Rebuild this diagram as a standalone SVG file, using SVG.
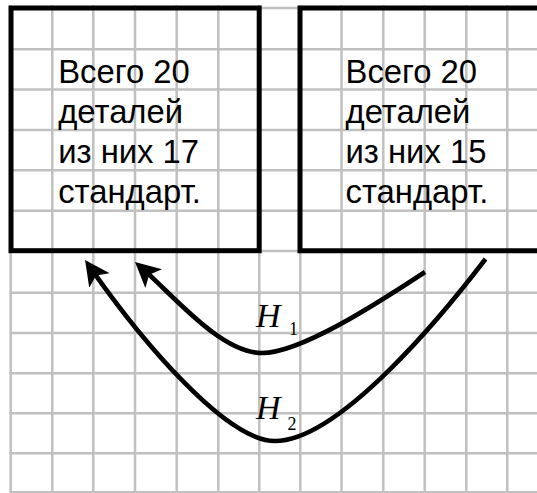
<svg xmlns="http://www.w3.org/2000/svg" width="537" height="493" viewBox="0 0 537 493">
<style>
.grid line{stroke:#c0c0c0;stroke-width:2.5}
.box{fill:none;stroke:#000;stroke-width:5;stroke-linejoin:miter}
.t{font-family:"Liberation Sans",Arial,sans-serif;font-size:32.8px;fill:#000}
.lbl{font-family:"Liberation Serif","Times New Roman",serif;fill:#000}
.h{font-style:italic;font-size:34px}
.sub{font-size:18px}
.conn{fill:none;stroke:#000;stroke-width:4.6}
</style>
<defs>
<marker id="ah" markerUnits="userSpaceOnUse" markerWidth="30" markerHeight="30" viewBox="0 -15 30 30" refX="10" refY="0" orient="auto">
<path d="M0,-12.5 L25,0 L0,12.5 L6,0 Z" fill="#000"/>
</marker>
</defs>
<rect width="537" height="493" fill="#fff"/>
<g class="grid" id="grid">
<line x1="10.7" y1="5" x2="10.7" y2="493"/>
<line x1="52.3" y1="5" x2="52.3" y2="493"/>
<line x1="93.3" y1="5" x2="93.3" y2="493"/>
<line x1="135" y1="5" x2="135" y2="493"/>
<line x1="176.7" y1="5" x2="176.7" y2="493"/>
<line x1="218.3" y1="5" x2="218.3" y2="493"/>
<line x1="259.3" y1="5" x2="259.3" y2="493"/>
<line x1="300.3" y1="5" x2="300.3" y2="493"/>
<line x1="341.5" y1="5" x2="341.5" y2="493"/>
<line x1="383.3" y1="5" x2="383.3" y2="493"/>
<line x1="424.7" y1="5" x2="424.7" y2="493"/>
<line x1="466.3" y1="5" x2="466.3" y2="493"/>
<line x1="507.3" y1="5" x2="507.3" y2="493"/>
<line x1="9.5" y1="8" x2="537" y2="8"/>
<line x1="9.5" y1="49.3" x2="537" y2="49.3"/>
<line x1="9.5" y1="89.5" x2="537" y2="89.5"/>
<line x1="9.5" y1="130" x2="537" y2="130"/>
<line x1="9.5" y1="170.3" x2="537" y2="170.3"/>
<line x1="9.5" y1="210.7" x2="537" y2="210.7"/>
<line x1="9.5" y1="251" x2="537" y2="251"/>
<line x1="9.5" y1="292.7" x2="537" y2="292.7"/>
<line x1="9.5" y1="333" x2="537" y2="333"/>
<line x1="9.5" y1="373.3" x2="537" y2="373.3"/>
<line x1="9.5" y1="413.3" x2="537" y2="413.3"/>
<line x1="9.5" y1="453.3" x2="537" y2="453.3"/>
<line x1="9.5" y1="492.3" x2="537" y2="492.3"/>
</g>
<g id="box1">
<rect class="box" x="11" y="8" width="248.2" height="242.7"/>
<text class="t" x="58.2" y="83.3">Всего 20</text>
<text class="t" x="58.2" y="123.3">деталей</text>
<text class="t" x="58.2" y="163.3">из них 17</text>
<text class="t" x="58.2" y="203.3">стандарт.</text>
</g>
<g id="box2">
<path class="box" d="M540,8 H300 V250.7 H540"/>
<text class="t" x="345.5" y="83.3">Всего 20</text>
<text class="t" x="345.5" y="123.3">деталей</text>
<text class="t" x="345.5" y="163.3">из них 15</text>
<text class="t" x="345.5" y="203.3">стандарт.</text>
</g>
<g id="connectors">
<path class="conn" marker-end="url(#ah)" d="M425,272 C375,305 300,353 262,353 C222,353 176,298.6 146.2,272"/>
<path class="conn" marker-end="url(#ah)" d="M485.5,259 C445,312 340,441 275,441 C225,441 139.9,337.7 93.7,272.3"/>
</g>
<g id="label-h1" class="lbl">
<text class="h" x="256" y="327">H</text>
<text class="sub" x="289" y="335">1</text>
</g>
<g id="label-h2" class="lbl">
<text class="h" x="256" y="418.5">H</text>
<text class="sub" x="287.5" y="430">2</text>
</g>
</svg>
